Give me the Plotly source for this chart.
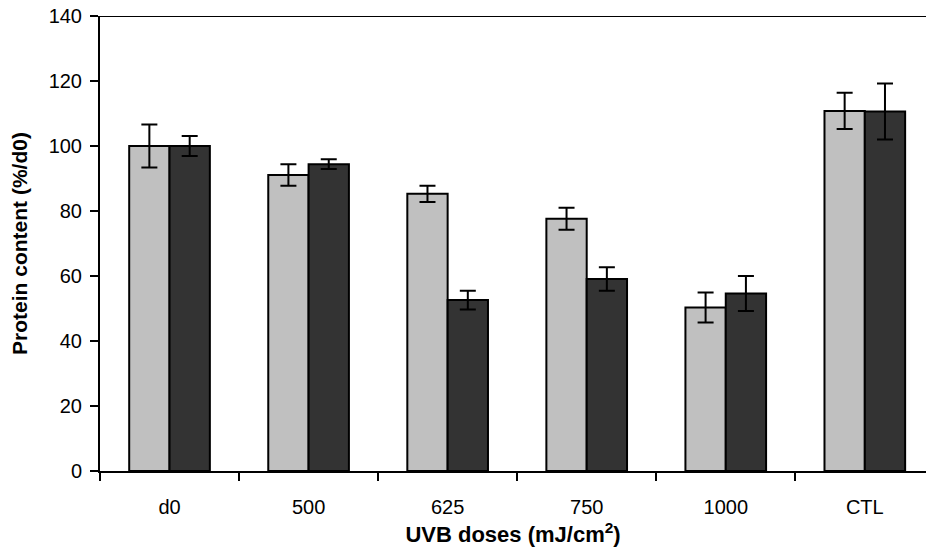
import plotly.graph_objects as go

categories = ["d0", "500", "625", "750", "1000", "CTL"]
light_vals = [100, 91.1, 85.3, 77.6, 50.3, 110.8]
light_err = [6.6, 3.3, 2.5, 3.4, 4.6, 5.6]
dark_vals = [100, 94.4, 52.6, 59.1, 54.6, 110.6]
dark_err = [3.1, 1.5, 2.9, 3.6, 5.4, 8.6]
y_ticks = [0, 20, 40, 60, 80, 100, 120, 140]

fig = go.Figure()
fig.add_trace(go.Bar(
    x=categories, y=light_vals, name="light",
    marker=dict(color="#c0c0c0", line=dict(color="black", width=2)),
    error_y=dict(type="data", array=light_err, color="black", thickness=2, width=8),
))
fig.add_trace(go.Bar(
    x=categories, y=dark_vals, name="dark",
    marker=dict(color="#333333", line=dict(color="black", width=2)),
    error_y=dict(type="data", array=dark_err, color="black", thickness=2, width=8),
))

fig.update_layout(
    width=926, height=556,
    margin=dict(l=100, r=0, t=16, b=85),
    plot_bgcolor="white", paper_bgcolor="white",
    showlegend=False,
    barmode="group", bargap=0.42, bargroupgap=0,
    font=dict(family="Liberation Sans, Arial, sans-serif", color="black", size=20),
    xaxis=dict(
        type="category", range=[-0.5, 5.44],
        showline=True, linecolor="black", linewidth=2,
        ticks="outside", tickson="boundaries", ticklen=8, tickwidth=2, tickcolor="black",
        tickfont=dict(size=20), ticklabelstandoff=17,
        title=dict(text="<b>UVB doses (mJ/cm<sup>2</sup>)</b>", font=dict(size=22), standoff=10),
        showgrid=False, zeroline=False,
    ),
    yaxis=dict(
        range=[0, 140], tickvals=y_ticks,
        showline=True, linecolor="black", linewidth=2,
        ticks="outside", ticklen=8, tickwidth=2, tickcolor="black",
        tickfont=dict(size=20), ticklabeloverflow="allow", ticklabelstandoff=4,
        title=dict(text="<b>Protein content (%/d0)</b>", font=dict(size=21), standoff=15),
        showgrid=False, zeroline=False,
    ),
)
fig.add_shape(type="line", xref="paper", yref="y", x0=0, x1=1, y0=140, y1=140,
              line=dict(color="black", width=2))

fig.write_html(
    "out.html",
    config={"displayModeBar": False},
    post_script="document.body.style.margin='0';document.body.style.overflow='hidden';",
)
